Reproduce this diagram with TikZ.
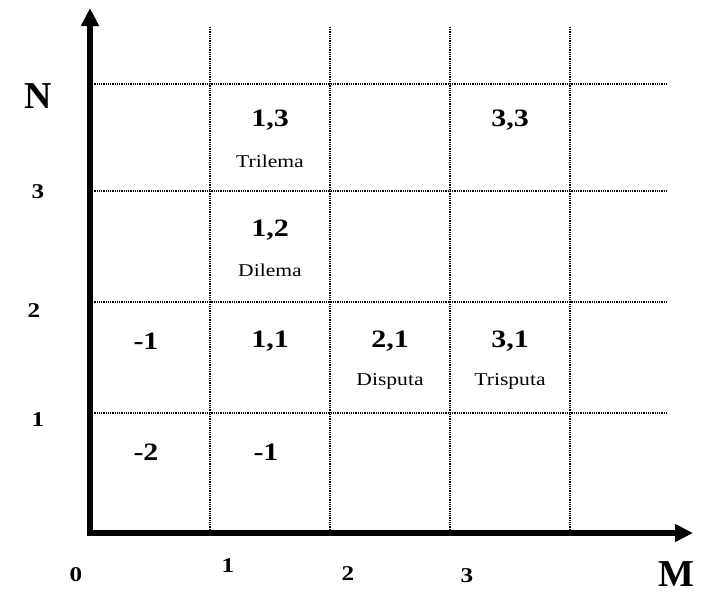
\documentclass[tikz,border=0pt]{standalone}
\usepackage{fontspec}
\setmainfont{Liberation Serif}
\usetikzlibrary{arrows.meta}
\newcommand{\wide}[1]{\scalebox{1.2}[1]{#1}}
\tikzset{
  cell/.style={font=\fontsize{25}{30}\selectfont\bfseries},
  word/.style={font=\fontsize{18}{22}\selectfont},
  tick/.style={font=\fontsize{21}{25}\selectfont\bfseries},
  axisname/.style={font=\fontsize{38}{44}\selectfont\bfseries},
  gridline/.style={dash pattern=on 1pt off 0.8pt, line width=1.3pt}
}
\begin{document}
\begin{tikzpicture}[x=1pt,y=-1pt]
        \useasboundingbox (0,0) rectangle (703,595);
        \foreach \value in {210,330,450,570}
          \draw[gridline] (\value,27) -- (\value,531);
        \foreach \value in {84,191,302,413}
          \draw[gridline] (90,\value) -- (667,\value);
        \draw[-{Triangle[length=18pt,width=17pt]}, line width=6pt] (87,533) -- (693,533);
        \draw[-{Triangle[length=18pt,width=17pt]}, line width=6pt] (90,536) -- (90,8);
        \node[axisname] (n) at (38,96) {N};
        \node[axisname] (m) at (676,574) {M};
        \node[tick] (y3) at (38,192) {\wide{3}};
        \node[tick] (y2) at (34,311) {\wide{2}};
        \node[tick] (y1) at (38,420) {\wide{1}};
        \node[tick] (x0) at (76,575) {\wide{0}};
        \node[tick] (x1) at (228,566) {\wide{1}};
        \node[tick] (x2) at (348,574) {\wide{2}};
        \node[tick] (x3) at (467,576) {\wide{3}};
        \node[cell] (c13) at (270,120) {\wide{1,3}};
        \node[word] (t13) at (270,161) {\wide{Trilema}};
        \node[cell] (c33) at (510,120) {\wide{3,3}};
        \node[cell] (c12) at (270,230) {\wide{1,2}};
        \node[word] (t12) at (270,270) {\wide{Dilema}};
        \node[cell] (c01) at (146,341) {\wide{-1}};
        \node[cell] (c11) at (270,341) {\wide{1,1}};
        \node[cell] (c21) at (390,341) {\wide{2,1}};
        \node[word] (t21) at (390,381) {\wide{Disputa}};
        \node[cell] (c31) at (510,341) {\wide{3,1}};
        \node[word] (t31) at (510,381) {\wide{Trisputa}};
        \node[cell] (c00) at (146,452) {\wide{-2}};
        \node[cell] (c10) at (266,452) {\wide{-1}};
        \end{tikzpicture}
\end{document}
